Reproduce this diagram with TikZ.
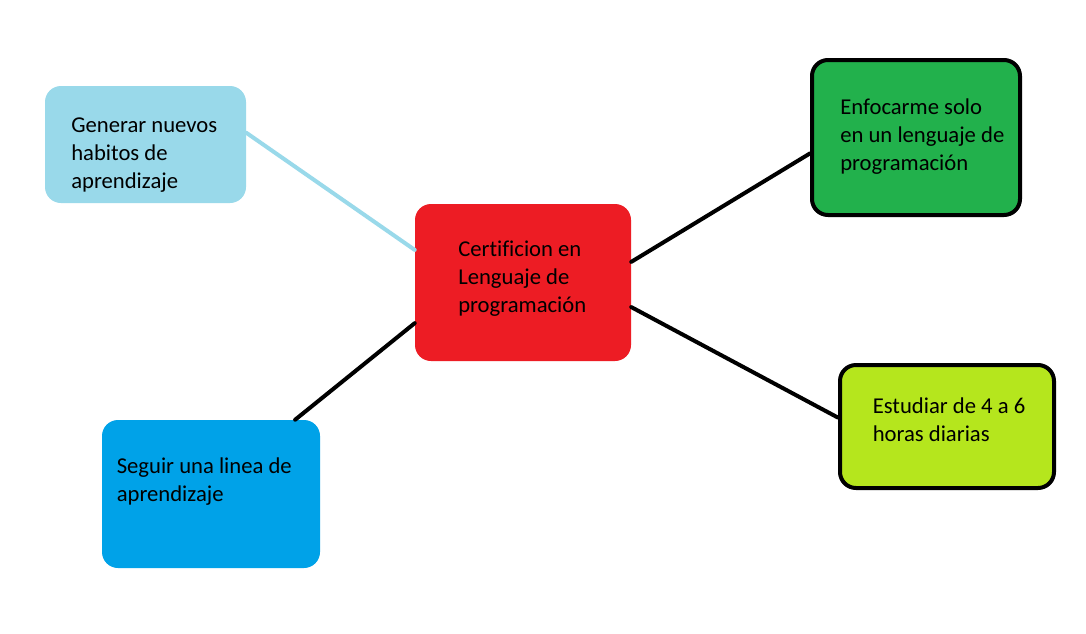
\documentclass[tikz,border=0pt]{standalone}
\usepackage{fontspec}
\setmainfont[Ligatures=NoCommon]{Carlito}
\usetikzlibrary{calc}
\definecolor{cLightBlue}{HTML}{99D9EA}
\definecolor{cRed}{HTML}{ED1C24}
\definecolor{cGreen}{HTML}{22B14C}
\definecolor{cLime}{HTML}{B5E61D}
\definecolor{cBlue}{HTML}{00A2E8}
\tikzset{
  box/.style={rectangle, rounded corners=12pt, inner sep=0pt, draw=none},
  bordered/.style={box, draw=black, line width=3pt},
  txt/.style={anchor=north west, inner sep=0pt, align=left, font=\fontsize{17}{21}\selectfont, text=black},
  link/.style={line width=3pt, black, line cap=round},
  linklight/.style={line width=3pt, cLightBlue, line cap=round}
}
\begin{document}
\begin{tikzpicture}[x=0.75pt, y=-0.75pt]
\useasboundingbox (0,0) rectangle (1086,633);
\fill[white] (0,0) rectangle (1086,633);
\node[box, fill=cLightBlue, minimum width=150.75pt, minimum height=87.75pt] (A) at (145.5,144.5) {};
\node[box, fill=cRed, minimum width=162pt, minimum height=117.75pt] (C) at (523,282.5) {};
\node[bordered, fill=cGreen, minimum width=156pt, minimum height=116.25pt] (G) at (916,137.5) {};
\node[bordered, fill=cLime, minimum width=160.5pt, minimum height=92.25pt] (L) at (947,426.5) {};
\node[box, fill=cBlue, minimum width=163.5pt, minimum height=111pt] (B) at (211,494) {};
\draw[linklight] ($(A.north east)!0.40!(A.south east)$) -- ($(C.north west)!0.293!(C.south west)$);
\draw[link] ($(C.north east)!0.369!(C.south east)$) -- ($(G.north west)!0.60!(G.south west)$);
\draw[link] ($(C.north east)!0.656!(C.south east)$) -- ($(L.north west)!0.43!(L.south west)$);
\draw[link] ($(C.north west)!0.758!(C.south west)$) -- ($(B.north west)!0.885!(B.north east)$);
\node[txt] (tA) at (71,112.7) {\strut Generar nuevos\\habitos de\\aprendizaje};
\node[txt] (tC) at (458,236.4) {\strut Certificion en\\Lenguaje de\\programación};
\node[txt] (tG) at (840,94.4) {\strut Enfocarme solo\\en un lenguaje de\\programación};
\node[txt] (tL) at (872.5,393.7) {\strut Estudiar de 4 a 6\\horas diarias};
\node[txt] (tB) at (116.5,453.7) {\strut Seguir una linea de\\aprendizaje};
\end{tikzpicture}
\end{document}
